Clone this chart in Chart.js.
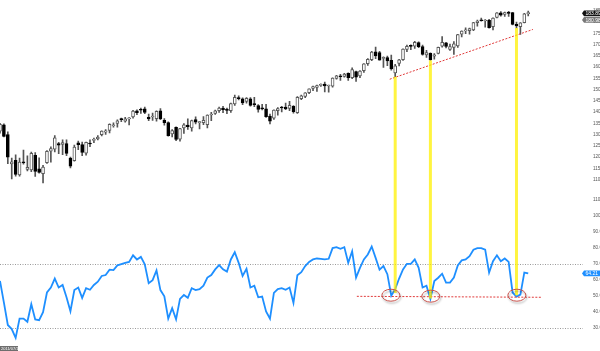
<!DOCTYPE html>
<html>
<head>
<meta charset="utf-8">
<script src="https://cdn.jsdelivr.net/npm/chart.js@4.4.1/dist/chart.umd.min.js"></script>
<style>
  html, body { margin: 0; padding: 0; background: #fff; }
  #chart { display: block; }
</style>
</head>
<body>
<canvas id="chart" width="600" height="351"></canvas>
<script>
// weekly bars, index 0 = week of 2011-07-18 ... index 135 = week of 2014-02-17
const open = [
  131.5, 134.3, 130.0, 116.9, 118.5, 112.0, 117.5, 114.5, 114.3, 120.7,
  114.8, 112.6, 117.5, 122.6, 123.5, 126.0, 125.6, 126.0, 119.5, 118.4,
  126.3, 125.5, 121.7, 126.0, 127.4, 128.0, 129.9, 131.0, 131.8, 133.9,
  135.0, 136.9, 136.0, 137.0, 137.8, 140.6, 141.0, 141.4, 137.6, 137.8,
  137.1, 140.5, 136.3, 135.3, 130.3, 133.2, 127.9, 133.0, 134.2, 132.9,
  136.6, 135.3, 135.3, 134.4, 138.7, 139.4, 140.6, 141.8, 141.3, 140.6,
  143.6, 146.4, 145.9, 144.7, 145.9, 143.4, 142.9, 141.8, 141.4, 138.2,
  137.3, 140.6, 142.1, 142.2, 141.6, 142.5, 139.7, 145.9, 146.9, 148.6,
  150.5, 151.0, 151.9, 152.4, 151.6, 151.5, 155.0, 156.0, 155.9, 157.2,
  155.3, 158.0, 156.1, 158.4, 161.5, 163.3, 166.8, 166.4, 163.8, 164.2,
  163.0, 157.4, 161.6, 163.3, 167.9, 169.3, 169.3, 170.9, 169.1, 165.4,
  166.1, 164.8, 166.1, 169.3, 170.8, 167.9, 168.8, 169.4, 174.6, 176.1,
  176.2, 176.5, 179.8, 180.9, 180.5, 180.8, 178.0, 182.1, 184.1, 183.4,
  184.0, 184.2, 179.0, 178.0, 179.7, 183.8
];
const high = [
  135.0, 134.8, 131.2, 119.5, 121.0, 119.5, 123.1, 120.5, 122.2, 122.0,
  119.6, 116.3, 122.9, 124.5, 129.5, 126.5, 127.7, 127.7, 120.0, 125.3,
  127.1, 126.6, 126.7, 127.6, 128.4, 129.5, 131.6, 132.2, 134.8, 135.2,
  136.5, 137.3, 137.6, 137.5, 140.8, 141.0, 141.8, 142.2, 139.1, 139.5,
  140.6, 141.6, 137.1, 135.7, 132.2, 133.4, 132.8, 134.9, 137.0, 136.4,
  137.9, 135.9, 138.0, 138.8, 139.9, 140.9, 142.2, 142.6, 141.8, 144.0,
  147.6, 147.2, 146.3, 146.4, 146.4, 146.6, 143.3, 143.4, 143.4, 139.1,
  141.0, 142.0, 142.6, 144.0, 144.8, 142.9, 146.9, 147.5, 148.7, 150.3,
  151.6, 152.0, 152.6, 153.3, 152.0, 155.2, 156.3, 156.8, 157.2, 157.4,
  159.7, 158.2, 158.4, 161.6, 163.8, 167.0, 168.9, 167.0, 164.6, 164.9,
  165.3, 161.2, 163.5, 168.1, 169.8, 169.9, 171.4, 171.2, 169.8, 167.5,
  166.3, 166.0, 168.9, 173.6, 171.0, 170.2, 171.3, 174.6, 176.1, 177.5,
  177.3, 179.9, 180.9, 181.8, 181.1, 181.2, 181.9, 184.2, 184.7, 184.5,
  184.8, 184.3, 180.0, 179.8, 183.9, 184.9
];
const low = [
  130.6, 128.9, 117.0, 110.3, 111.5, 111.5, 116.8, 113.8, 113.5, 111.4,
  112.8, 108.5, 117.2, 117.7, 122.3, 121.5, 121.0, 120.6, 115.2, 118.2,
  123.3, 120.6, 120.8, 124.6, 126.4, 127.6, 129.4, 130.1, 130.7, 133.3,
  133.3, 135.7, 135.5, 134.3, 137.3, 138.8, 139.4, 139.3, 136.2, 136.3,
  136.0, 136.6, 134.2, 129.3, 128.9, 127.3, 127.1, 130.5, 132.3, 131.5,
  134.7, 132.5, 134.4, 133.0, 136.2, 139.0, 139.8, 139.7, 139.3, 139.8,
  142.9, 145.4, 143.3, 144.0, 142.6, 142.4, 140.0, 140.9, 137.6, 134.7,
  136.7, 138.6, 140.1, 141.1, 140.6, 139.5, 139.4, 145.5, 146.4, 148.2,
  149.5, 149.2, 151.4, 149.0, 148.8, 151.1, 154.6, 154.1, 155.5, 154.1,
  154.9, 153.6, 155.3, 157.6, 160.7, 162.8, 163.7, 163.1, 159.9, 160.6,
  158.6, 155.7, 160.5, 163.0, 166.9, 167.8, 168.3, 168.6, 165.3, 164.3,
  163.0, 163.5, 165.9, 168.9, 168.5, 167.4, 165.6, 168.8, 173.4, 174.9,
  174.6, 176.2, 178.2, 180.4, 177.8, 177.3, 176.5, 181.9, 182.7, 182.5,
  182.5, 178.8, 177.4, 174.5, 179.6, 182.8
];
const close = [
  134.5, 129.2, 119.9, 117.9, 112.3, 117.7, 117.4, 115.4, 121.6, 113.6,
  113.1, 115.5, 122.5, 123.8, 128.5, 125.3, 126.4, 121.6, 115.9, 124.4,
  125.5, 122.0, 126.5, 125.8, 127.8, 128.9, 131.5, 131.6, 134.5, 134.3,
  136.1, 136.6, 137.0, 137.1, 140.4, 139.7, 140.8, 139.8, 137.0, 137.9,
  140.3, 136.9, 135.3, 129.5, 131.8, 127.8, 132.6, 134.3, 133.5, 136.2,
  135.5, 135.7, 136.3, 138.6, 139.1, 140.6, 141.8, 141.1, 140.7, 143.8,
  146.6, 146.0, 144.1, 146.1, 142.9, 143.3, 141.2, 141.4, 138.0, 136.0,
  140.9, 141.6, 141.8, 141.4, 143.0, 140.2, 146.6, 147.2, 148.6, 150.3,
  151.3, 151.8, 152.0, 151.6, 151.8, 155.1, 156.1, 155.7, 156.9, 155.3,
  158.9, 155.5, 158.2, 161.4, 163.4, 166.7, 165.0, 163.1, 164.3, 162.7,
  159.2, 160.6, 163.2, 168.0, 169.2, 169.2, 171.0, 169.1, 165.6, 166.4,
  163.3, 165.5, 168.8, 171.0, 169.2, 169.1, 170.3, 174.5, 176.0, 176.2,
  177.1, 179.8, 180.5, 180.6, 180.5, 177.5, 181.8, 184.1, 183.1, 184.2,
  183.9, 179.0, 178.3, 179.7, 183.7, 183.9
];
const rsi = [
  59.5, 46, 32, 29.5, 24, 36, 36, 34, 45, 35.5,
  35, 40, 52.3, 55.4, 61, 55.4, 57, 49.3, 40.6, 53.8,
  55.4, 48.9, 55, 54, 57, 59, 62.6, 63.2, 66.5, 66.3,
  69.2, 70, 70.8, 71.4, 75.5, 72.9, 74.5, 69.8, 58.1, 60,
  66.1, 53.8, 49.9, 36, 42.5, 35.5, 48.3, 50.7, 49, 55,
  53.8, 54.4, 56.5, 61.6, 63.2, 66.7, 69.4, 66.7, 65.3, 72.9,
  77.4, 70.8, 62.6, 67.1, 55.4, 56.5, 49.3, 49.7, 40.5, 36,
  52, 54.4, 55, 54, 55.4, 45.8, 63, 65, 68.8, 71.4,
  72.9, 73.5, 73.3, 72.9, 73.3, 80, 80.6, 79.6, 80.6, 70.8,
  78, 61.6, 67.7, 72.9, 76, 81, 73.9, 66.5, 68.8, 63.7,
  50.3, 54.4, 61, 66.7, 70.2, 70.2, 72.9, 67.7, 55.4, 56.5,
  48.3, 59.5, 61.5, 64, 58.5, 58.5, 61.6, 69.2, 72.3, 72.9,
  75, 79, 80, 80, 79, 64.7, 71.8, 75.5, 71.8, 73.5,
  71.4, 52.3, 49.7, 51, 64.7, 64.21
];

// month labels: index of the first weekly bar that closes in that month
const monthTickIdx = [6, 11, 15, 19, 24, 28, 32, 37, 41, 45, 50, 54, 59, 63, 67,
  72, 76, 80, 84, 89, 93, 98, 102, 106, 111, 115, 119, 124, 128, 133];
const monthTickNames = ['Sep', 'Oct', 'Nov', 'Dec', 'Jan', 'Feb', 'Mar', 'Apr', 'May', 'Jun', 'Jul', 'Aug', 'Sep', 'Oct', 'Nov',
  'Dec', 'Jan', 'Feb', 'Mar', 'Apr', 'May', 'Jun', 'Jul', 'Aug', 'Sep', 'Oct', 'Nov', 'Dec', 'Jan', 'Feb'];
const firstDate = '2011/07/18';

// hand drawn marks
const trendX = [99.6, 136.2];
const trendY = [154.6, 176.75];
const supportX = [91.2, 138.4];
const supportY = [49.9, 49.3];
const rsiBands = [70, 30];
const yellowIdx = [101, 110, 132];
const yellowRsiEnd = [52, 48.5, 50.5];
const circleIdx = [99.9, 110.1, 132.1];
const circleRsi = [50.6, 50, 50.6];

const lastPrice = 183.89;
const markPrice = 180.98;
const lastRsi = 64.21;

const FONT = "'Liberation Sans', Arial, sans-serif";
Chart.defaults.font.family = FONT;

const isUp = close.map((c, i) => c >= open[i]);

function tag(ctx, left, right, yc, text, bg) {
  const h = 5.6;
  ctx.fillStyle = bg;
  ctx.beginPath();
  ctx.moveTo(left - 2, yc);
  ctx.lineTo(left, yc - h / 2);
  ctx.lineTo(right, yc - h / 2);
  ctx.lineTo(right, yc + h / 2);
  ctx.lineTo(left, yc + h / 2);
  ctx.closePath();
  ctx.fill();
  ctx.fillStyle = '#fff';
  ctx.font = '5px ' + FONT;
  ctx.textAlign = 'left';
  ctx.textBaseline = 'middle';
  ctx.fillText(text, left + 1.5, yc + 0.3);
}

const overlay = {
  id: 'overlay',
  beforeDatasetsDraw(chart) {
    const { ctx, chartArea: a, scales } = chart;
    ctx.save();
    ctx.strokeStyle = '#9a9a9a';
    ctx.lineWidth = 1;
    ctx.setLineDash([1, 1.5]);
    rsiBands.forEach(v => {
      const py = Math.round(scales.yRsi.getPixelForValue(v)) + 0.5;
      ctx.beginPath();
      ctx.moveTo(a.left, py);
      ctx.lineTo(a.right, py);
      ctx.stroke();
    });
    ctx.restore();
  },
  afterDatasetsDraw(chart) {
    const { ctx, scales } = chart;
    const x = scales.x, y = scales.y, r = scales.yRsi;
    ctx.save();
    // yellow connectors, price low -> rsi low
    ctx.strokeStyle = 'rgba(255, 240, 0, 0.75)';
    ctx.lineWidth = 3;
    yellowIdx.forEach((idx, k) => {
      const px = x.getPixelForValue(idx);
      ctx.beginPath();
      ctx.moveTo(px, y.getPixelForValue(low[idx]));
      ctx.lineTo(px, r.getPixelForValue(yellowRsiEnd[k]));
      ctx.stroke();
    });
    // circles round the rsi lows
    circleIdx.forEach((idx, k) => {
      const cx = x.getPixelForValue(idx);
      const cy = r.getPixelForValue(circleRsi[k]);
      ctx.save();
      ctx.shadowColor = 'rgba(0,0,0,0.35)';
      ctx.shadowBlur = 2;
      ctx.shadowOffsetX = 1;
      ctx.shadowOffsetY = 2;
      ctx.strokeStyle = '#c8504a';
      ctx.lineWidth = 1;
      ctx.beginPath();
      ctx.ellipse(cx, cy, 9, 6, 0, 0, Math.PI * 2);
      ctx.stroke();
      ctx.restore();
    });
    ctx.restore();
  },
  afterDraw(chart) {
    const { ctx, chartArea: a, scales } = chart;
    ctx.save();
    tag(ctx, a.right + 1, chart.width, scales.y.getPixelForValue(lastPrice), lastPrice.toFixed(2), '#111');
    tag(ctx, a.right + 1, chart.width, scales.y.getPixelForValue(markPrice), markPrice.toFixed(2), '#777');
    tag(ctx, a.right + 1, chart.width, scales.yRsi.getPixelForValue(lastRsi), lastRsi.toFixed(2), '#1e8fff');
    // date of the first bar
    ctx.fillStyle = '#6e6e6e';
    ctx.fillRect(0, a.bottom + 3, 18, chart.height - a.bottom - 3);
    ctx.fillStyle = '#fff';
    ctx.font = '4px ' + FONT;
    ctx.textAlign = 'left';
    ctx.textBaseline = 'middle';
    ctx.fillText(firstDate, 1, (a.bottom + 3 + chart.height) / 2);
    ctx.restore();
  }
};

new Chart(document.getElementById('chart'), {
  type: 'bar',
  data: {
    datasets: [
      {
        type: 'line',
        label: 'RSI',
        data: rsi.map((v, i) => ({ x: i, y: v })),
        yAxisID: 'yRsi',
        borderColor: '#1e8fff',
        borderWidth: 1.8,
        pointRadius: 0,
        tension: 0,
        order: 0
      },
      {
        type: 'line',
        label: 'trend',
        data: trendX.map((v, i) => ({ x: v, y: trendY[i] })),
        yAxisID: 'y',
        borderColor: '#e03a3a',
        borderWidth: 1,
        borderDash: [2, 1.5],
        pointRadius: 0,
        order: -1
      },
      {
        type: 'line',
        label: 'support',
        data: supportX.map((v, i) => ({ x: v, y: supportY[i] })),
        yAxisID: 'yRsi',
        borderColor: '#e03a3a',
        borderWidth: 1,
        borderDash: [2, 1.5],
        pointRadius: 0,
        order: -1
      },
      {
        label: 'body',
        data: close.map((c, i) => ({ x: i, y: [open[i], c] })),
        yAxisID: 'y',
        backgroundColor: isUp.map(u => u ? '#ffffff' : '#000000'),
        borderColor: isUp.map(u => u ? '#5a5a5a' : '#000000'),
        borderWidth: 1,
        borderSkipped: false,
        barThickness: 3,
        minBarLength: 1,
        grouped: false,
        order: 1
      },
      {
        label: 'wick',
        data: high.map((h, i) => ({ x: i, y: [low[i], h] })),
        yAxisID: 'y',
        backgroundColor: '#555555',
        borderWidth: 0,
        barThickness: 1,
        grouped: false,
        order: 2
      }
    ]
  },
  options: {
    responsive: false,
    animation: false,
    layout: { padding: 0 },
    plugins: { legend: { display: false }, tooltip: { enabled: false } },
    scales: {
      x: {
        type: 'linear',
        min: 0,
        max: 149,
        offset: false,
        afterBuildTicks: s => { s.ticks = monthTickIdx.map(v => ({ value: v })); },
        afterFit: s => { s.height = 8; },
        ticks: {
          autoSkip: false,
          maxRotation: 0,
          padding: 3,
          color: '#333',
          font: { size: 5 },
          callback: (v, i) => monthTickNames[i]
        },
        grid: { display: false },
        border: { display: false }
      },
      y: {
        type: 'linear',
        position: 'right',
        stack: 'panes',
        stackWeight: 190,
        min: 104.39,
        max: 187.72,
        afterFit: s => { s.width = 17; },
        ticks: {
          stepSize: 5,
          autoSkip: false,
          includeBounds: false,
          padding: 2,
          color: '#555',
          font: { size: 4.6 },
          callback: v => v >= 110 ? v.toFixed(2) : ''
        },
        grid: { display: false },
        border: { display: false }
      },
      yRsi: {
        type: 'linear',
        axis: 'y',
        position: 'right',
        stack: 'panes',
        stackWeight: 153,
        min: 20.77,
        max: 114.92,
        afterFit: s => { s.width = 17; },
        ticks: {
          stepSize: 10,
          autoSkip: false,
          includeBounds: false,
          padding: 2,
          color: '#555',
          font: { size: 4.6 },
          callback: v => (v >= 30 && v <= 110) ? v.toFixed(2) : ''
        },
        grid: { display: false },
        border: { display: false }
      }
    }
  },
  plugins: [overlay]
});
</script>
</body>
</html>
